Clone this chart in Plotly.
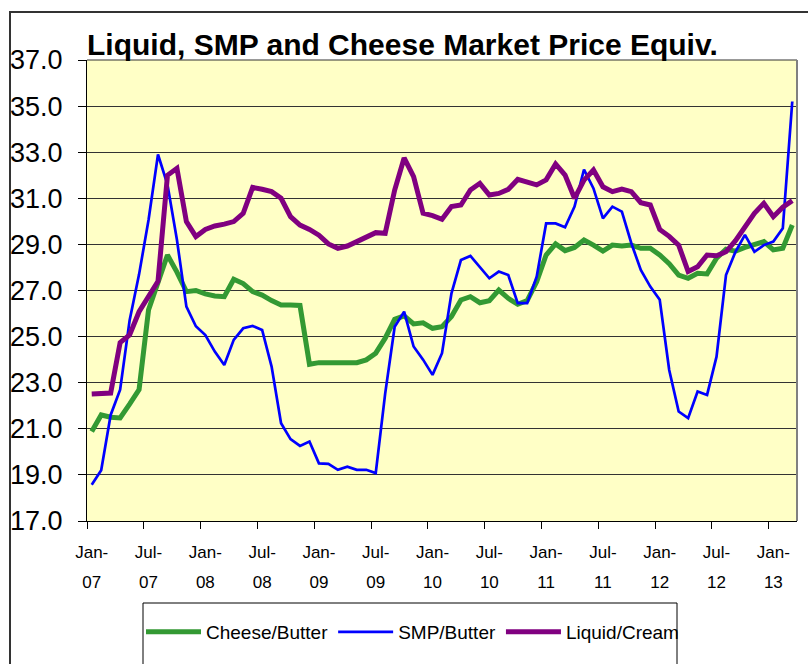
import plotly.graph_objects as go

# ---- data (monthly, Jan-2007 .. Mar-2013) ----
months = [f"{m}-{y:02d}" for y in range(7, 14) for m in
          ["Jan", "Feb", "Mar", "Apr", "May", "Jun", "Jul", "Aug", "Sep", "Oct", "Nov", "Dec"]][:75]

cheese_butter = [20.88, 21.6, 21.5, 21.47, 22.07, 22.7, 26.16, 27.4, 28.54, 27.8,
                 26.95, 27.0, 26.85, 26.76, 26.73, 27.49, 27.3, 26.95, 26.8, 26.56,
                 26.37, 26.37, 26.35, 23.8, 23.87, 23.87, 23.87, 23.87, 23.87, 23.99,
                 24.28, 24.93, 25.75, 25.9, 25.55, 25.6, 25.36, 25.43, 25.87, 26.59,
                 26.73, 26.47, 26.56, 27.02, 26.66, 26.4, 26.56, 27.38, 28.54, 29.02,
                 28.73, 28.87, 29.19, 28.97, 28.71, 28.97, 28.93, 28.97, 28.83, 28.83,
                 28.54, 28.16, 27.67, 27.53, 27.75, 27.72, 28.4, 28.79, 28.71, 28.87,
                 28.97, 29.12, 28.76, 28.83, 29.84]

smp_butter = [18.57, 19.2, 21.6, 22.7, 25.7, 27.7, 30.06, 32.9, 31.6, 29.2,
              26.3, 25.45, 25.07, 24.35, 23.77, 24.86, 25.36, 25.46, 25.29, 23.7,
              21.24, 20.55, 20.26, 20.45, 19.5, 19.48, 19.22, 19.36, 19.22, 19.22,
              19.08, 22.54, 25.43, 26.08, 24.57, 24.0, 23.34, 24.28, 26.88, 28.32,
              28.5, 28.03, 27.53, 27.82, 27.67, 26.45, 26.45, 27.6, 29.91, 29.91,
              29.74, 30.64, 32.25, 31.43, 30.13, 30.64, 30.42, 29.05, 27.89, 27.17,
              26.6, 23.55, 21.75, 21.46, 22.62, 22.47, 24.13, 27.67, 28.68, 29.41,
              28.68, 28.97, 29.12, 29.7, 35.2]

liquid_cream = [22.51, 22.51, 22.55, 24.74, 25.07, 26.08, 26.73, 27.4, 32.0, 32.3,
                29.99, 29.34, 29.65, 29.8, 29.88, 29.99, 30.35, 31.47, 31.39, 31.29,
                31.0, 30.2, 29.84, 29.65, 29.4, 29.02, 28.83, 28.93, 29.12, 29.34,
                29.51, 29.48, 31.36, 32.75, 31.94, 30.35, 30.25, 30.09, 30.64, 30.71,
                31.36, 31.65, 31.14, 31.21, 31.39, 31.82, 31.72, 31.58, 31.8, 32.49,
                32.01, 31.0, 31.79, 32.23, 31.5, 31.29, 31.4, 31.29, 30.81, 30.71,
                29.65, 29.35, 28.97, 27.82, 28.03, 28.54, 28.51, 28.68, 29.16, 29.77,
                30.35, 30.78, 30.2, 30.61, 30.9]

tick_month = ["Jan-", "Jul-"] * 6 + ["Jan-"]
tick_year = ["07", "07", "08", "08", "09", "09", "10", "10", "11", "11", "12", "12", "13"]
tick_pos = [months.index(f"{m}{y}") for m, y in zip(tick_month, tick_year)]

idx = list(range(len(months)))

# ---- geometry helpers (pixels -> paper) ----
W, H = 808, 664
ML, MR, MT, MB = 87, 11, 60, 143
PW, PH = W - ML - MR, H - MT - MB


def px(x):
    return (x - ML) / PW


def py(y):
    return (H - MB - y) / PH


FONT = "Arial, Liberation Sans, sans-serif"

fig = go.Figure()
series = [
    ("Cheese/Butter", cheese_butter, "#339933", 5, "x"),
    ("SMP/Butter", smp_butter, "#0000FF", 2.7, "x"),
    ("Liquid/Cream", liquid_cream, "#800080", 5, "x2"),
]
for name, vals, color, width, xa in series:
    fig.add_trace(go.Scatter(x=idx, y=vals, mode="lines", name=name, xaxis=xa,
                             line=dict(color=color, width=width)))

fig.update_layout(
    width=W, height=H,
    margin=dict(l=ML, r=MR, t=MT, b=MB, autoexpand=False),
    paper_bgcolor="white",
    plot_bgcolor="#FFFFC6",
    title=dict(text="Liquid, SMP and Cheese Market Price Equiv.",
               font=dict(family=FONT, size=30, color="black", weight="bold"),
               x=87 / W, xanchor="left", xref="container",
               y=1 - 34 / H, yanchor="top", yref="container"),
    showlegend=True,
    legend=dict(orientation="h", x=px(141), xanchor="left", y=py(613), yanchor="top",
                font=dict(family=FONT, size=19, color="black"),
                itemwidth=55,
                bgcolor="rgba(0,0,0,0)", borderwidth=0, traceorder="normal"),
    xaxis=dict(range=[-0.5, len(months) - 0.5], tickmode="array", tickvals=tick_pos,
               ticktext=tick_month, ticks="", showgrid=False, zeroline=False,
               showline=True, linecolor="black", linewidth=1,
               tickfont=dict(family=FONT, size=17, color="black"),
               ticklabelstandoff=16,
               minor=dict(ticks="outside", ticklen=7, tickwidth=1, tickcolor="black",
                          tick0=-0.5, dtick=6, showgrid=False)),
    xaxis2=dict(range=[-0.5, len(months) - 0.5], overlaying="x", anchor="y", side="bottom",
                tickmode="array", tickvals=tick_pos, ticktext=tick_year, ticks="",
                showgrid=False, zeroline=False, showline=False,
                tickfont=dict(family=FONT, size=17, color="black"),
                ticklabelstandoff=49),
    yaxis=dict(range=[17, 37], dtick=2, tick0=17, tickformat=".1f",
               ticks="outside", ticklen=8, tickcolor="black", tickwidth=1,
               showgrid=True, gridcolor="#333333", gridwidth=1, zeroline=False,
               showline=True, linecolor="black", linewidth=1,
               tickfont=dict(family=FONT, size=27, color="black"),
               ticklabelstandoff=10),
    shapes=[
        # outer chart frame (extends beyond the visible area)
        dict(type="rect", xref="paper", yref="paper", x0=px(10), x1=px(840),
             y0=py(720), y1=py(12), line=dict(color="#333333", width=2),
             fillcolor="rgba(0,0,0,0)", layer="above"),
        # legend box
        dict(type="rect", xref="paper", yref="paper", x0=px(143), x1=px(677),
             y0=py(720), y1=py(603), line=dict(color="black", width=1),
             fillcolor="rgba(0,0,0,0)", layer="above"),
        # plot-area right border
        dict(type="line", xref="paper", yref="paper", x0=1, x1=1, y0=0, y1=1,
             line=dict(color="#808080", width=2), layer="above"),
        # top border line at 37
        dict(type="line", xref="paper", yref="paper", x0=0, x1=1, y0=1, y1=1,
             line=dict(color="#333333", width=1), layer="below"),
    ],
)

fig.write_html("out.html", config={"displayModeBar": False},
               post_script="document.body.style.margin='0px';")
